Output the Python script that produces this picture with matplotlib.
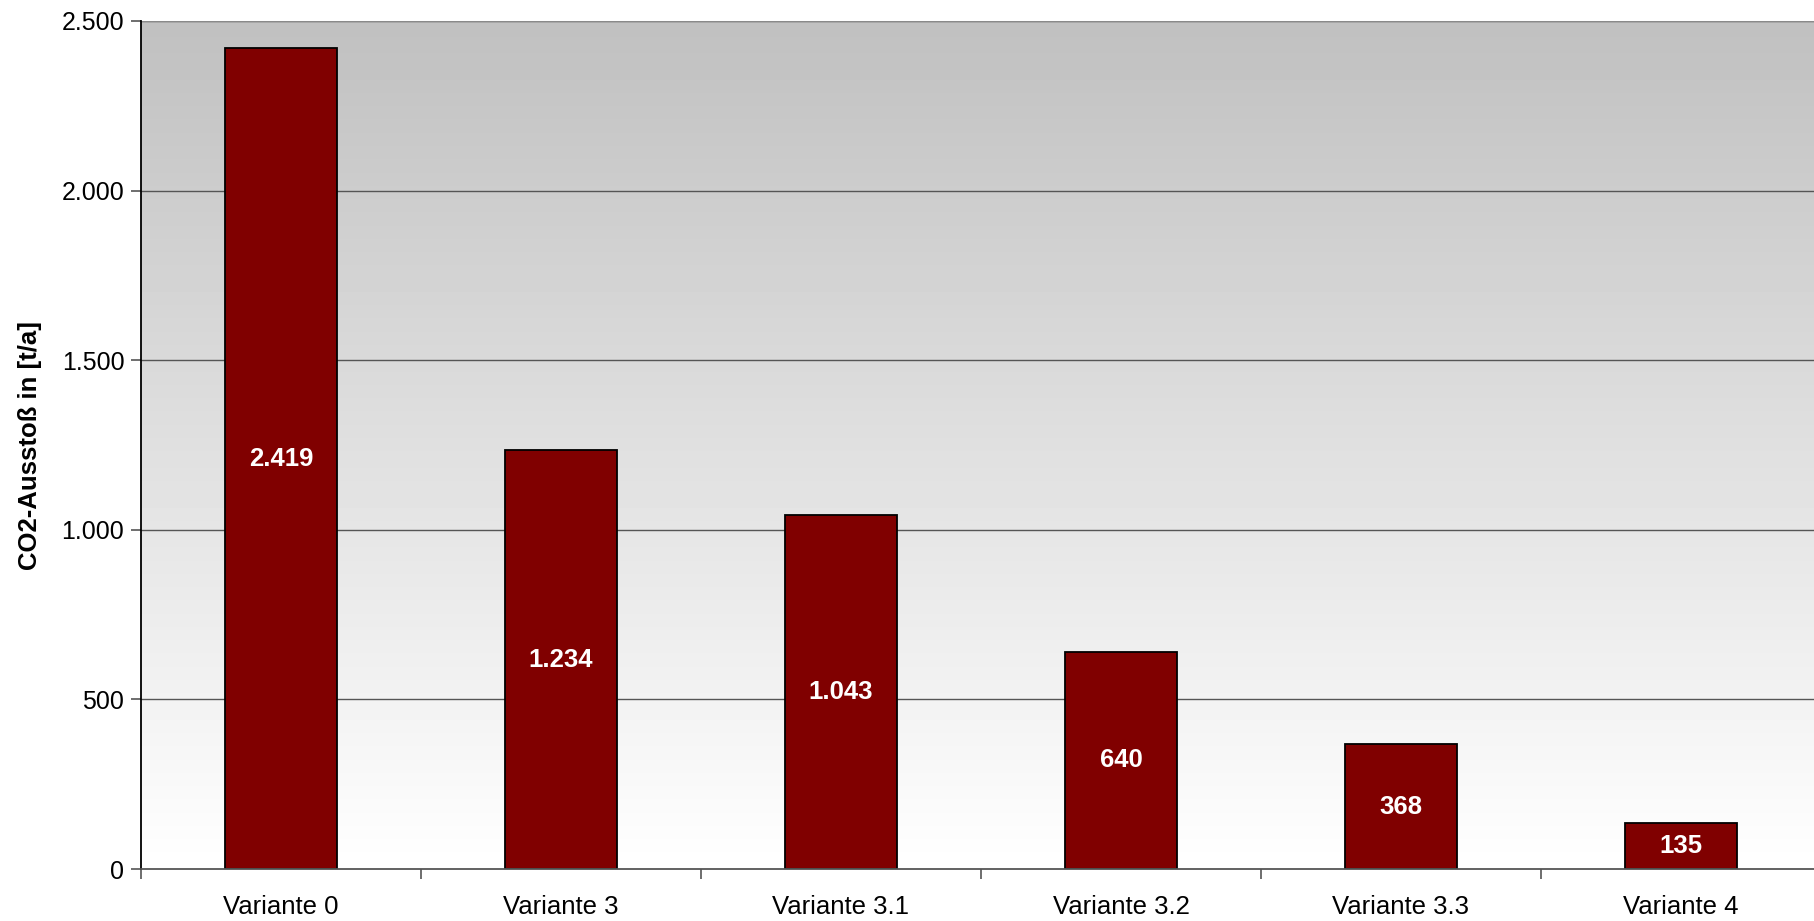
import matplotlib
matplotlib.use("Agg")
import matplotlib.pyplot as plt
import numpy as np

plt.rcParams["font.family"] = ["Liberation Sans", "DejaVu Sans"]

VARIANTS = ["Variante 0", "Variante 3", "Variante 3.1", "Variante 3.2", "Variante 3.3", "Variante 4"]
CO2 = [2419, 1234, 1043, 640, 368, 135]
Y_TICKS = [0, 500, 1000, 1500, 2000, 2500]


def fmt_de(v):
    return f"{v:,.0f}".replace(",", ".")


fig = plt.figure(figsize=(18.14, 9.21), dpi=100)
ax = fig.add_axes([141 / 1814, 1 - 869 / 921, 1680 / 1814, 848 / 921])

x = np.arange(len(VARIANTS))
ax.set_xlim(-0.5, len(VARIANTS) - 0.5)
ax.set_ylim(0, 2500)

# grey-to-white vertical gradient like the Excel plot area
grad = np.linspace(1.0, 0.753, 256).reshape(-1, 1)
ax.imshow(grad, extent=(-0.5, len(VARIANTS) - 0.5, 0, 2500), origin="lower",
          cmap="gray", vmin=0, vmax=1, aspect="auto", zorder=0)

for t in Y_TICKS[1:]:
    ax.axhline(t, color="#555555", linewidth=1.0, zorder=1)
ax.axhline(2500, color="#8a8a8a", linewidth=1.6, zorder=1)

bars = ax.bar(x, CO2, width=0.4, color="#800000", edgecolor="black",
              linewidth=1.3, zorder=2)
for rect, v in zip(bars, CO2):
    ax.text(rect.get_x() + rect.get_width() / 2, v / 2, fmt_de(v),
            ha="center", va="center", color="white", fontsize=18.5,
            fontweight="bold", zorder=3)

ax.set_yticks(Y_TICKS)
ax.set_yticklabels([fmt_de(t) for t in Y_TICKS], fontsize=18)
ax.set_xticks(x)
ax.set_xticklabels(VARIANTS, fontsize=18.5)
ax.set_xticks(np.arange(-0.5, len(VARIANTS) + 0.5, 1), minor=True)
ax.tick_params(axis="x", which="major", length=0, pad=19)
ax.tick_params(axis="x", which="minor", length=7, color="#555555", width=1.2)
ax.tick_params(axis="y", length=7, width=1.2, color="#555555", pad=5)

ax.set_ylabel("CO2-Ausstoß in [t/a]", fontsize=18.5, fontweight="bold", labelpad=14)

for s in ["top", "right"]:
    ax.spines[s].set_visible(False)
ax.spines["left"].set_color("black")
ax.spines["left"].set_linewidth(1.3)
ax.spines["bottom"].set_color("#555555")
ax.spines["bottom"].set_linewidth(1.3)

fig.savefig("out.png")
